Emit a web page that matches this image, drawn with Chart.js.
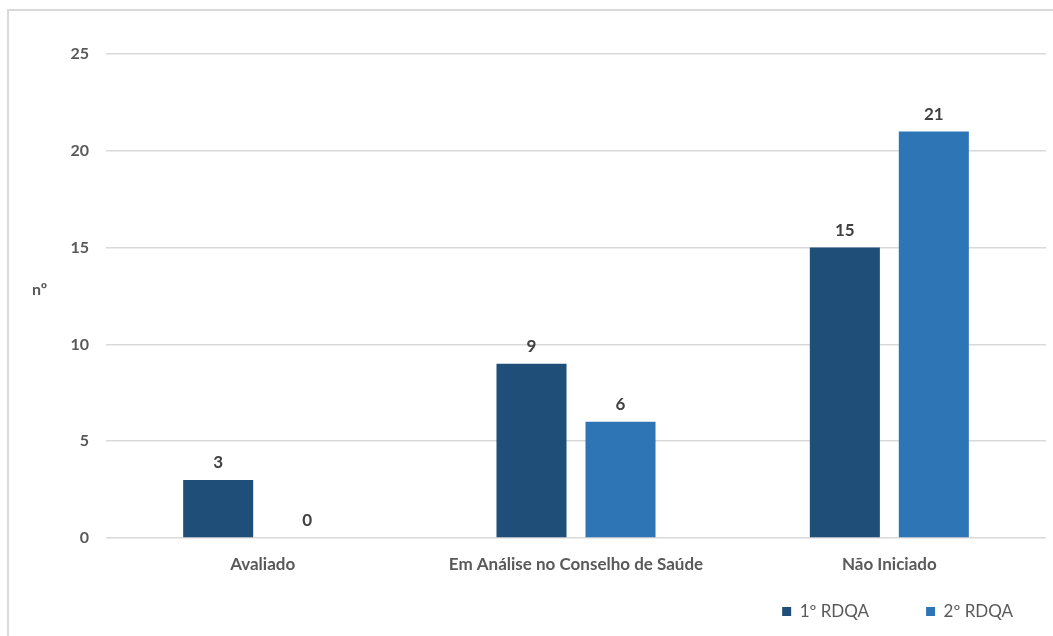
<!DOCTYPE html>
<html lang="pt-BR">
  <head>
    <meta charset="UTF-8" />
    <title>RDQA</title>
    <script src="https://cdn.jsdelivr.net/npm/chart.js"></script>
    <style>
      body { margin: 0; background: #fff; }
      .frame {
        position: absolute; left: 7px; top: 9px; width: 1200px; height: 700px;
        border-left: 2px solid #d9d9d9; border-top: 2px solid #d9d9d9;
      }
      .wrap { position: absolute; left: 0; top: 0; width: 1053px; height: 636px; }
    </style>
  </head>
  <body>
    <div class="frame"></div>
    <div class="wrap"><canvas id="chart" width="1053" height="636"></canvas></div>
    <script>
      const categories = ["Avaliado", "Em Análise no Conselho de Saúde", "Não Iniciado"];
      const seriesNames = ["1º RDQA", "2º RDQA"];
      const rdqa1 = [3, 9, 15];
      const rdqa2 = [0, 6, 21];
      const yTicks = [0, 5, 10, 15, 20, 25];

      const gray = "#595959";
      const fontFamily = "Lato, 'Open Sans', sans-serif";

      // rótulos de valor acima das barras + título "nº" do eixo
      const labelsPlugin = {
        id: "valueLabels",
        afterDatasetsDraw(chart) {
          const ctx = chart.ctx;
          ctx.save();
          ctx.font = "bold 17px " + fontFamily;
          ctx.fillStyle = "#404040";
          ctx.textAlign = "center";
          ctx.textBaseline = "middle";
          chart.data.datasets.forEach((ds, i) => {
            chart.getDatasetMeta(i).data.forEach((bar, j) => {
              ctx.fillText(String(ds.data[j]), bar.x, bar.y - 17);
            });
          });
          ctx.font = "bold 16px " + fontFamily;
          ctx.fillStyle = gray;
          ctx.textAlign = "left";
          ctx.fillText("nº", 32, 290);
          ctx.restore();
        },
        afterLayout(chart) {
          // legenda: mais para a direita e mais para cima
          chart.legend.right += 24;
          chart.legend.top -= 27;
          chart.legend.bottom -= 27;
        },
      };

      new Chart(document.getElementById("chart"), {
        type: "bar",
        data: {
          labels: categories,
          datasets: [
            { label: seriesNames[0], data: rdqa1, backgroundColor: "#1f4e79" },
            { label: seriesNames[1], data: rdqa2, backgroundColor: "#2e75b6" },
          ],
        },
        options: {
          responsive: false,
          animation: false,
          layout: { padding: { top: 54, right: 7, bottom: -21, left: 0 } },
          datasets: { bar: { categoryPercentage: 0.568, barPercentage: 0.787 } },
          plugins: {
            tooltip: { enabled: false },
            legend: {
              position: "bottom",
              align: "end",
              labels: {
                boxWidth: 9,
                boxHeight: 9,
                padding: 57,
                color: gray,
                font: { family: fontFamily, size: 17 },
              },
            },
          },
          scales: {
            x: {
              grid: { display: false },
              border: { display: false },
              ticks: { color: gray, padding: 8, font: { family: fontFamily, size: 17, weight: "bold" } },
              afterFit(scale) { scale.height = 35; },
            },
            y: {
              min: 0,
              max: 25,
              afterBuildTicks(scale) { scale.ticks = yTicks.map((v) => ({ value: v })); },
              grid: { color: "#d9d9d9", lineWidth: 1.5, drawTicks: false },
              border: { display: false },
              ticks: { color: gray, padding: 17, font: { family: fontFamily, size: 16, weight: "bold" } },
              afterFit(scale) { scale.width = 106; },
            },
          },
        },
        plugins: [labelsPlugin],
      });
    </script>
  </body>
</html>
